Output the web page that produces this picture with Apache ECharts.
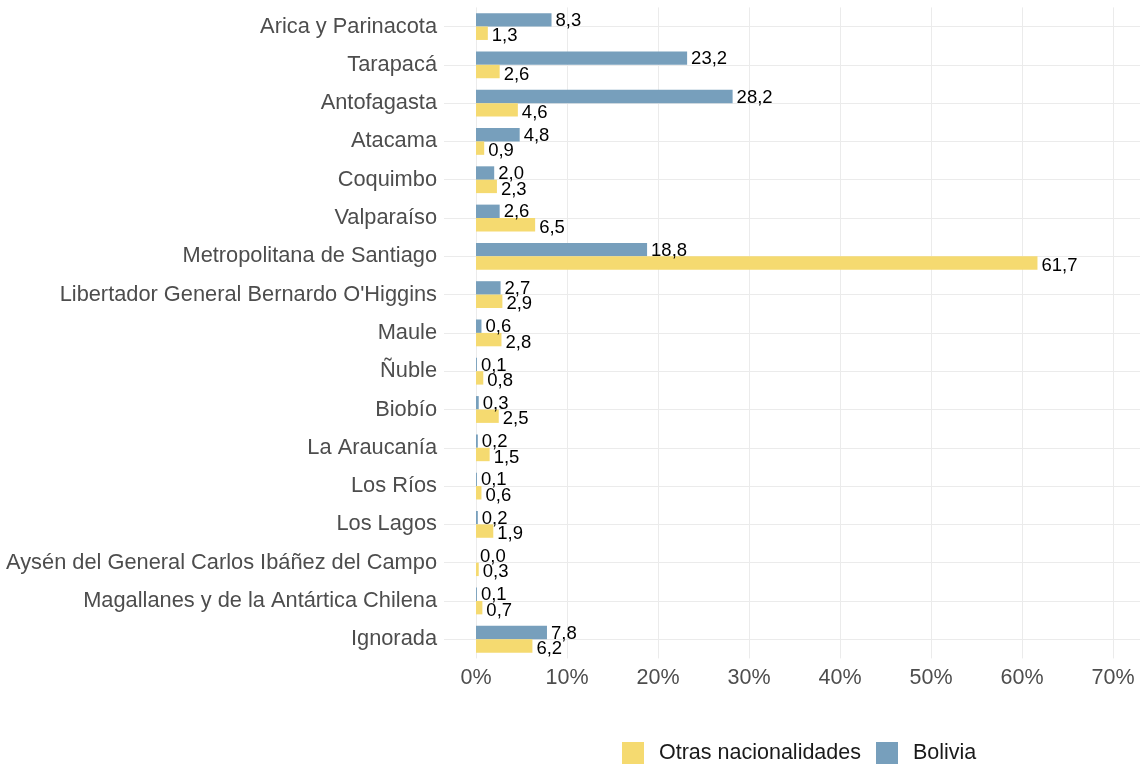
<!DOCTYPE html>
<html>
<head>
<meta charset="utf-8">
<script src="https://cdn.jsdelivr.net/npm/echarts@6/dist/echarts.min.js"></script>
<style>
html,body{margin:0;padding:0;background:#fff;}
#chart{width:1145px;height:767px;}
</style>
</head>
<body>
<div id="chart"></div>
<script>
const categories = ["Arica y Parinacota","Tarapacá","Antofagasta","Atacama","Coquimbo","Valparaíso","Metropolitana de Santiago","Libertador General Bernardo O'Higgins","Maule","Ñuble","Biobío","La Araucanía","Los Ríos","Los Lagos","Aysén del General Carlos Ibáñez del Campo","Magallanes y de la Antártica Chilena","Ignorada"];
const bolivia = [8.3,23.2,28.2,4.8,2.0,2.6,18.8,2.7,0.6,0.1,0.3,0.2,0.1,0.2,0.0,0.1,7.8];
const otras = [1.3,2.6,4.6,0.9,2.3,6.5,61.7,2.9,2.8,0.8,2.5,1.5,0.6,1.9,0.3,0.7,6.2];
const xTicks = [0,10,20,30,40,50,60,70];

const FONT = "'Liberation Sans', Arial, sans-serif";
const chart = echarts.init(document.getElementById('chart'), null, {renderer:'canvas'});
const fmt = p => p.value.toFixed(1).replace('.', ',');

chart.setOption({
  animation:false,
  backgroundColor:'#ffffff',
  textStyle:{fontFamily:FONT},
  grid:[
    {left:444, width:696, top:26.5, height:612.8},
    {left:476, width:637, top:7.4, height:651}
  ],
  xAxis:[
    {gridIndex:0, type:'value', min:0, max:70, show:false},
    {gridIndex:1, type:'value', min:xTicks[0], max:xTicks[xTicks.length-1], interval:10,
     axisLine:{show:false}, axisTick:{show:false},
     axisLabel:{formatter:'{value}%', color:'#4d4d4d', fontSize:21.5, fontFamily:FONT, margin:9},
     splitLine:{show:true, lineStyle:{color:'#ebebeb', width:1}}}
  ],
  yAxis:[
    {gridIndex:0, type:'category', data:categories, inverse:true, boundaryGap:false,
     axisLine:{show:false}, axisTick:{show:false},
     axisLabel:{interval:0, color:'#4d4d4d', fontSize:21.8, fontFamily:FONT, margin:7},
     splitLine:{show:true, interval:0, lineStyle:{color:'#ebebeb', width:1}}},
    {gridIndex:1, type:'category', data:categories, inverse:true, show:false}
  ],
  legend:{
    data:['Otras nacionalidades','Bolivia'],
    left:617, top:737, itemWidth:22, itemHeight:22, itemGap:15, icon:'rect',
    textStyle:{color:'#1a1a1a', fontSize:21.5, fontFamily:FONT, padding:[0,0,0,10]}
  },
  series:[
    {name:'Bolivia', type:'bar', xAxisIndex:1, yAxisIndex:1, data:bolivia,
     barCategoryGap:'30%', barGap:'0%',
     itemStyle:{color:'#779fbc'},
     label:{show:true, position:'right', distance:4, offset:[0,1], formatter:fmt, color:'#000', fontSize:18.5, fontFamily:FONT}},
    {name:'Otras nacionalidades', type:'bar', xAxisIndex:1, yAxisIndex:1, data:otras,
     barCategoryGap:'30%', barGap:'0%',
     itemStyle:{color:'#f5da70'},
     label:{show:true, position:'right', distance:4, offset:[0,3], formatter:fmt, color:'#000', fontSize:18.5, fontFamily:FONT}}
  ]
});
</script>
</body>
</html>
